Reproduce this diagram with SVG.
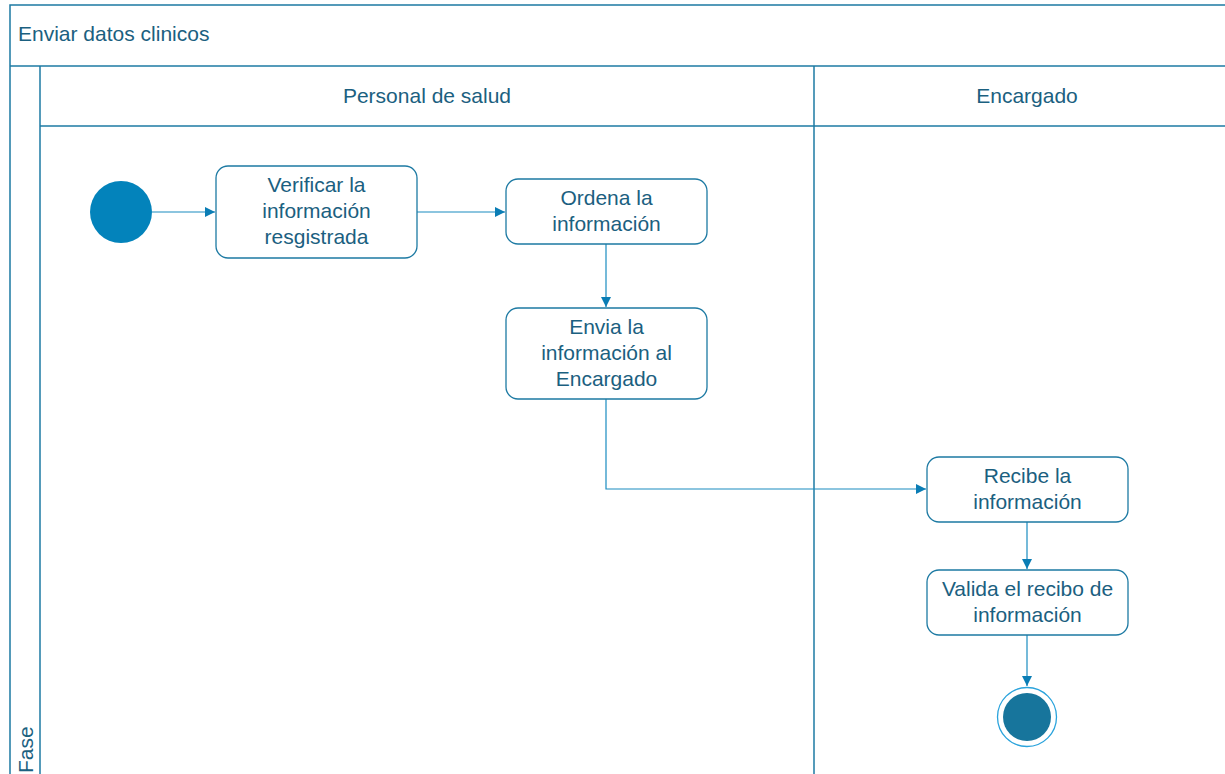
<svg xmlns="http://www.w3.org/2000/svg" width="1225" height="774" viewBox="0 0 1225 774">
  <style>
    .frame { fill: none; stroke: #1d7aa3; stroke-width: 1.5; }
    .act { fill: #ffffff; stroke: #1d7aa3; stroke-width: 1.3; }
    .lbl { font-family: "Liberation Sans", Arial, sans-serif; font-size: 21px; fill: #1b6080; text-anchor: middle; }
    .ttl { font-family: "Liberation Sans", Arial, sans-serif; font-size: 21px; fill: #1b6080; }
    .edge { fill: none; stroke: #1a8cc0; stroke-width: 1.2; }
  </style>
  <defs>
    <marker id="arrow" viewBox="0 0 10 10" refX="10" refY="5" markerWidth="10" markerHeight="10" markerUnits="userSpaceOnUse" orient="auto">
      <path d="M0,0 L10,5 L0,10 Z" fill="#0a7db5"/>
    </marker>
  </defs>
  <rect width="1225" height="774" fill="#ffffff"/>

  <!-- Pool and lanes -->
  <g id="pool">
    <rect class="frame" x="10" y="5" width="1230" height="790"/>
    <line class="frame" x1="10" y1="66" x2="1225" y2="66"/>
    <line class="frame" x1="40" y1="66" x2="40" y2="774"/>
    <line class="frame" x1="40" y1="126" x2="1225" y2="126"/>
    <line class="frame" x1="814" y1="66" x2="814" y2="774"/>
    <text class="ttl" x="18" y="41">Enviar datos clinicos</text>
    <text class="ttl" transform="translate(33,773) rotate(-90)">Fase</text>
    <text class="lbl" x="427" y="103">Personal de salud</text>
    <text class="lbl" x="1027" y="103">Encargado</text>
  </g>

  <!-- Connectors -->
  <g id="connectors">
    <line class="edge" x1="152" y1="212" x2="215" y2="212" marker-end="url(#arrow)"/>
    <line class="edge" x1="417" y1="212" x2="505" y2="212" marker-end="url(#arrow)"/>
    <line class="edge" x1="606" y1="244" x2="606" y2="307" marker-end="url(#arrow)"/>
    <polyline class="edge" points="606,399 606,489 926,489" marker-end="url(#arrow)"/>
    <line class="edge" x1="1027" y1="522" x2="1027" y2="569" marker-end="url(#arrow)"/>
    <line class="edge" x1="1027" y1="635" x2="1027" y2="686" marker-end="url(#arrow)"/>
  </g>

  <g id="start">
    <circle cx="121" cy="212" r="31" fill="#0383bb"/>
  </g>

  <g id="verificar">
    <rect class="act" x="216" y="166" width="201" height="92" rx="12"/>
    <text class="lbl" x="316.5" y="192">Verificar la</text>
    <text class="lbl" x="316.5" y="218">información</text>
    <text class="lbl" x="316.5" y="244">resgistrada</text>
  </g>

  <g id="ordena">
    <rect class="act" x="506" y="179" width="201" height="65" rx="12"/>
    <text class="lbl" x="606.5" y="205">Ordena la</text>
    <text class="lbl" x="606.5" y="231">información</text>
  </g>

  <g id="envia">
    <rect class="act" x="506" y="308" width="201" height="91" rx="12"/>
    <text class="lbl" x="606.5" y="334">Envia la</text>
    <text class="lbl" x="606.5" y="360">información al</text>
    <text class="lbl" x="606.5" y="386">Encargado</text>
  </g>

  <g id="recibe">
    <rect class="act" x="927" y="457" width="201" height="65" rx="12"/>
    <text class="lbl" x="1027.5" y="483">Recibe la</text>
    <text class="lbl" x="1027.5" y="509">información</text>
  </g>

  <g id="valida">
    <rect class="act" x="927" y="570" width="201" height="65" rx="12"/>
    <text class="lbl" x="1027.5" y="596">Valida el recibo de</text>
    <text class="lbl" x="1027.5" y="622">información</text>
  </g>

  <g id="end">
    <circle cx="1027" cy="717" r="29.5" fill="#ffffff" stroke="#2aa3dc" stroke-width="1.3"/>
    <circle cx="1027" cy="717" r="24" fill="#17759c"/>
  </g>
</svg>
